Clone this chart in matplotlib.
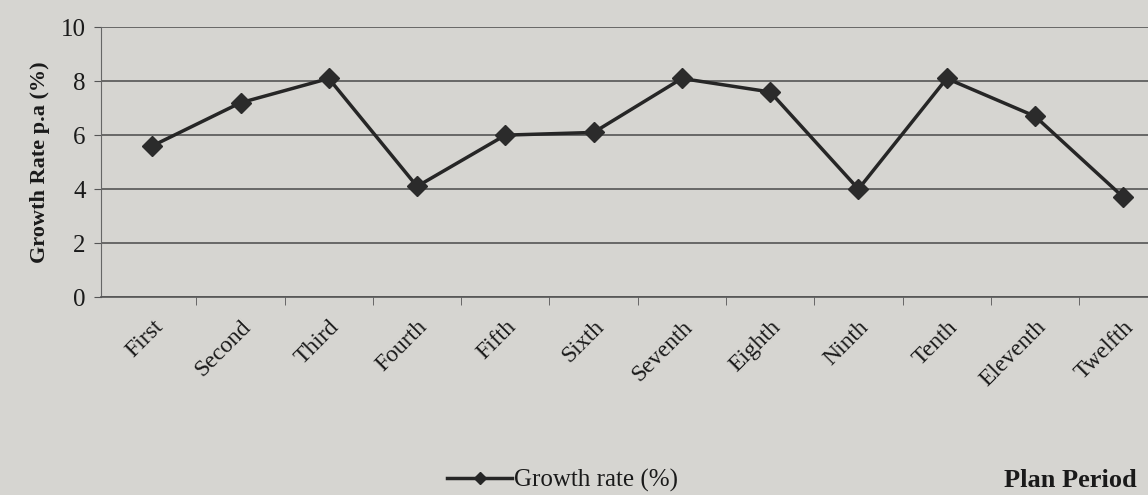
import matplotlib.pyplot as plt
from matplotlib.lines import Line2D

plt.rcParams['font.family'] = ['Liberation Serif', 'DejaVu Serif']

# plan periods and growth rate values
plans = ["First", "Second", "Third", "Fourth", "Fifth", "Sixth",
         "Seventh", "Eighth", "Ninth", "Tenth", "Eleventh", "Twelfth"]
growth = [5.6, 7.2, 8.1, 4.1, 6.0, 6.1, 8.1, 7.6, 4.0, 8.1, 6.7, 3.7]
y_ticks = [0, 2, 4, 6, 8, 10]

bg = '#d6d5d1'
fig = plt.figure(figsize=(11.48, 4.95), dpi=100, facecolor=bg)
ax = fig.add_axes([0.088, 0.40, 0.912, 0.545], facecolor=bg)

x = list(range(len(plans)))
ax.plot(x, growth, color='#262626', lw=2.5, marker='D', markersize=10,
        markerfacecolor='#2b2b2b', markeredgecolor='#2b2b2b')

ax.set_ylim(0, 10)
ax.set_xlim(-0.58, len(plans) - 0.72)
ax.set_yticks(y_ticks)
ax.grid(axis='y', color='#555555', lw=1.2)
ax.set_axisbelow(True)

# category labels in the middle, tick marks between categories
ax.set_xticks(x)
ax.set_xticklabels(plans, rotation=45, ha='right', rotation_mode='anchor', fontsize=17)
ax.tick_params(axis='x', which='major', length=0, pad=14, labelcolor='#1a1a1a')
ax.set_xticks([i + 0.5 for i in x[:-1]], minor=True)
ax.tick_params(axis='x', which='minor', length=6, color='#555555', direction='out')
ax.tick_params(axis='y', labelsize=18, length=5, color='#555555', pad=6, labelcolor='#1a1a1a')

for s in ['top', 'right']:
    ax.spines[s].set_visible(False)
ax.spines['left'].set_color('#666666')
ax.spines['bottom'].set_color('#555555')
ax.spines['bottom'].set_linewidth(1.2)

ax.set_ylabel("Growth Rate p.a (%)", fontsize=16, fontweight='bold', labelpad=8, color='#1a1a1a')

handle = Line2D([], [], color='#262626', lw=2.5, marker='D', markersize=6)
fig.legend([handle], ["Growth rate (%)"], loc='center', bbox_to_anchor=(0.49, 0.03),
           frameon=False, fontsize=18, handlelength=2.6, handletextpad=0.05,
           labelcolor='#1a1a1a')
fig.text(0.99, 0.03, "Plan Period", fontsize=19, fontweight='bold', ha='right', va='center',
         color='#1a1a1a')

fig.savefig('out.png', dpi=100, facecolor=bg)
